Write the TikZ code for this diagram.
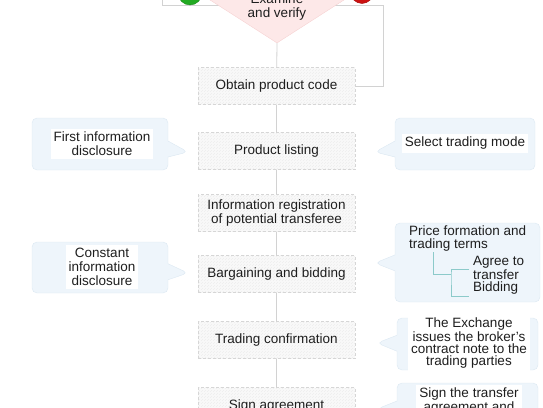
\documentclass[tikz,border=0pt]{standalone}
\usepackage{fontspec}
\setmainfont{Liberation Sans}
\usetikzlibrary{shapes.geometric,shapes.callouts,patterns}
\definecolor{notefill}{HTML}{EEF5FB}
\definecolor{notedraw}{HTML}{DCE8F2}
\definecolor{stepline}{HTML}{D6D6D6}
\definecolor{treeline}{HTML}{8CCACA}
\definecolor{chkfill}{HTML}{FDE8E8}
\definecolor{chkdraw}{HTML}{F6D2D2}
\definecolor{linkgray}{HTML}{D2D2D2}
\definecolor{txt}{HTML}{1E1E1E}
\definecolor{yesgreen}{HTML}{22AA22}
\definecolor{nored}{HTML}{CC1111}

\begin{document}
\begin{tikzpicture}
	[x=1pt, y=-1pt,
	every node/.style={font=\fontsize{13.5}{14}\selectfont, text=txt, align=center, inner sep=1pt},
	stepbox/.style={draw=stepline, densely dashed, preaction={fill=gray!5}, pattern=north east lines, pattern color=gray!13, minimum width=157pt, minimum height=37pt},
	note/.style={rectangle callout, rounded corners=5pt, draw=notedraw, fill=notefill, callout pointer width=16pt},
	notetext/.style={fill=white, inner sep=3pt},
	link/.style={draw=linkgray, line width=0.8pt},
	tree/.style={draw=treeline, line width=0.9pt}]
	\useasboundingbox (0,0) rectangle (543,407);
	\clip (0,0) rectangle (543,407);

	% main column
	\node[stepbox] (obtain) at (276.5,86) {Obtain product code};
	\node[stepbox] (listing) at (276.5,151) {Product listing};
	\node[stepbox] (reg) at (276.5,213) {Information registration\\of potential transferee};
	\node[stepbox] (bid) at (276.5,274) {Bargaining and bidding};
	\node[stepbox] (confirm) at (276.5,340) {Trading confirmation};
	\node[stepbox] (sign) at (276.5,406) {Sign agreement};

	\coordinate (split) at (277,5);
	\coordinate (noturn) at (383,5);
	\coordinate (yesup) at (162,-10);
	\draw[link] (split) -- (noturn) |- (obtain.east);
	\draw[link] (split) -| (yesup);

	\node[diamond, draw=chkdraw, fill=chkfill, minimum width=134pt, minimum height=86pt, inner sep=0] (chk) at (277,0) {};
	\node (chktext) at (277,7) {Examine\\and verify};
	\node[circle, fill=yesgreen, draw=yesgreen!80!black, minimum size=24pt, inner sep=0] (yes) at (190,-7) {};
	\node[circle, fill=nored, draw=nored!80!black, minimum size=23pt, inner sep=0] (no) at (362,-8) {};

	\draw[link] (chk.south) -- (obtain) -- (listing) -- (reg) -- (bid) -- (confirm) -- (sign);

	% side notes
	\coordinate (tipa) at (188,152);
	\coordinate (tipb) at (375,152);
	\coordinate (tipc) at (188,273);
	\coordinate (tipd) at (375,263);
	\coordinate (tipe) at (377,343);
	\coordinate (tipf) at (377,409);
	\node[note, minimum width=136pt, minimum height=52pt, callout absolute pointer={(tipa)}] (disc) at (100,144) {};
	\node[note, minimum width=140pt, minimum height=52pt, callout absolute pointer={(tipb)}] (mode) at (465,144) {};
	\node[note, minimum width=136pt, minimum height=51pt, callout absolute pointer={(tipc)}] (cdisc) at (100,267.5) {};
	\node[note, minimum width=145pt, minimum height=79pt, callout absolute pointer={(tipd)}] (price) at (467.5,262.5) {};
	\node[note, minimum width=141pt, minimum height=52pt, callout absolute pointer={(tipe)}] (note) at (467.5,344) {};
	\node[note, minimum width=141pt, minimum height=52pt, callout absolute pointer={(tipf)}] (signnote) at (467.5,409) {};

	\node[notetext] (disctext) at (102,144) {First information\\disclosure};
	\node[notetext] (modetext) at (465,143.5) {Select trading mode};
	\node[notetext] (cdisctext) at (102,267) {Constant\\information\\disclosure};
	\node[notetext, font=\fontsize{13.5}{12}\selectfont] (notetext) at (469,343) {The Exchange\\issues the broker's\\contract note to the\\trading parties};
	\node[notetext, font=\fontsize{13.5}{12}\selectfont, anchor=north] (signtext) at (469,385) {Sign the transfer\\agreement and};

	% price formation tree
	\node[align=left, anchor=west, font=\fontsize{13.5}{13}\selectfont] (pricetext) at (408,238.5) {Price formation and\\trading terms};
	\node[align=left, anchor=west, font=\fontsize{13.5}{11.5}\selectfont] (agree) at (472,268) {Agree to\\transfer};
	\node[align=left, anchor=west] (bidding) at (472,288) {Bidding};
	\coordinate (t0) at (433,252);
	\coordinate (t1) at (451,274);
	\coordinate (t2) at (469,269);
	\coordinate (t3) at (469,296);
	\draw[tree] (t0) |- (t1);
	\draw[tree] (t2) -| (t1) |- (t3);
\end{tikzpicture}
\end{document}
